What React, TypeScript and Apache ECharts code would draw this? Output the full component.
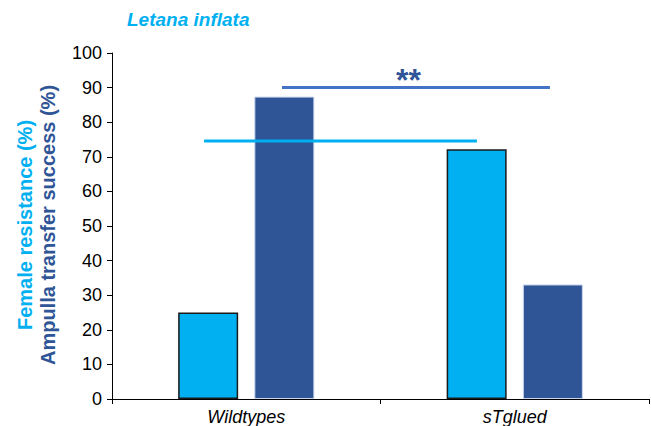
import React, { useEffect, useRef } from "react";
import * as echarts from "echarts";

const categories = ["Wildtypes", "sTglued"];
const femaleResistance = [25, 72.2];
const ampullaTransfer = [87.4, 33.1];
// reference lines: [x, y] in category units (0..2) and percent
const femaleLine = [[0.343, 74.6], [1.359, 74.6]];
const ampullaLine = [[0.633, 90], [1.631, 90]];
const significance = [[1.104, 90]];
const yTicks = { min: 0, max: 100, interval: 10 };

const LIGHT = "#00B0F0";
const DARK = "#2F5597";
const LINE_DARK = "#4472C4";
const FONT = "Liberation Sans, Arial, sans-serif";

export default function App() {
  const ref = useRef<HTMLDivElement>(null);
  useEffect(() => {
    if (!ref.current) return;
    const chart = echarts.init(ref.current, undefined, { renderer: "svg" });
    chart.setOption({
      animation: false,
      backgroundColor: "#ffffff",
      textStyle: { fontFamily: FONT },
      grid: { left: 112, right: 2, top: 53, bottom: 26, containLabel: false },
      graphic: [
        {
          type: "text",
          left: 127,
          top: 10,
          style: {
            text: "Letana inflata",
            fill: LIGHT,
            font: `italic bold 19px ${FONT}`,
          },
        },
        {
          type: "text",
          x: 25,
          y: 225,
          rotation: Math.PI / 2,
          style: {
            text: "Female resistance (%)",
            fill: LIGHT,
            font: `bold 20px ${FONT}`,
            align: "center",
            verticalAlign: "middle",
          },
        },
        {
          type: "text",
          x: 48,
          y: 225,
          rotation: Math.PI / 2,
          style: {
            text: "Ampulla transfer success (%)",
            fill: DARK,
            font: `bold 20px ${FONT}`,
            align: "center",
            verticalAlign: "middle",
          },
        },
      ],
      xAxis: [
        {
          type: "category",
          data: categories,
          axisLine: { lineStyle: { color: "#000", width: 1 } },
          axisTick: { show: true, length: 5, lineStyle: { color: "#000" } },
          axisLabel: {
            color: "#000",
            fontSize: 18,
            fontStyle: "italic",
            fontFamily: FONT,
            margin: 9,
          },
          splitLine: { show: false },
        },
        {
          type: "value",
          min: 0,
          max: 2,
          show: false,
          position: "bottom",
        },
      ],
      yAxis: {
        type: "value",
        min: yTicks.min,
        max: yTicks.max,
        interval: yTicks.interval,
        axisLine: { show: true, lineStyle: { color: "#000", width: 1 } },
        axisTick: { show: true, length: 5, lineStyle: { color: "#000" } },
        axisLabel: { color: "#000", fontSize: 18, fontFamily: FONT, margin: 10 },
        splitLine: { show: false },
      },
      series: [
        {
          type: "bar",
          data: femaleResistance,
          barWidth: 60,
          barGap: "27%",
          itemStyle: { color: LIGHT, borderColor: "#1a1a1a", borderWidth: 1.5 },
        },
        {
          type: "bar",
          data: ampullaTransfer,
          barWidth: 60,
          barGap: "27%",
          itemStyle: { color: DARK, borderColor: "#C9D6EC", borderWidth: 1 },
        },
        {
          type: "line",
          xAxisIndex: 1,
          data: femaleLine,
          symbol: "none",
          lineStyle: { color: LIGHT, width: 3 },
        },
        {
          type: "line",
          xAxisIndex: 1,
          data: ampullaLine,
          symbol: "none",
          lineStyle: { color: LINE_DARK, width: 3 },
        },
        {
          type: "scatter",
          xAxisIndex: 1,
          data: significance,
          symbolSize: 0,
          itemStyle: { opacity: 1 },
          label: {
            show: true,
            position: "top",
            distance: -8,
            formatter: "**",
            color: DARK,
            opacity: 1,
            fontSize: 32,
            fontWeight: "bold",
            fontFamily: FONT,
          },
        },
      ],
    });
    return () => chart.dispose();
  }, []);
  return (
    <div
      ref={ref}
      style={{ position: "fixed", left: 0, top: 0, width: 651, height: 426 }}
    />
  );
}
